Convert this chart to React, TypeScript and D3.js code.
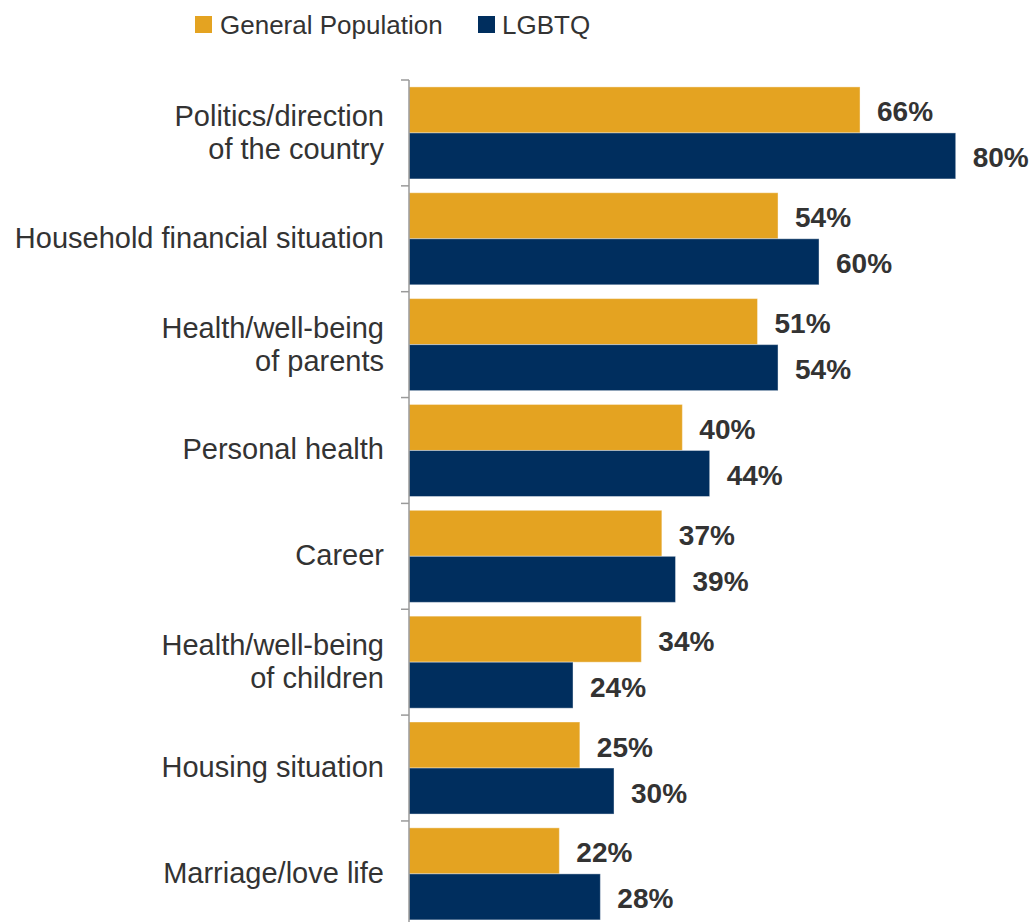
import React from "react";
import * as d3 from "d3";

const categories: string[][] = [
  ["Politics/direction", "of the country"],
  ["Household financial situation"],
  ["Health/well-being", "of parents"],
  ["Personal health"],
  ["Career"],
  ["Health/well-being", "of children"],
  ["Housing situation"],
  ["Marriage/love life"],
];
const generalPopulation = [66, 54, 51, 40, 37, 34, 25, 22];
const lgbtq = [80, 60, 54, 44, 39, 24, 30, 28];
const seriesNames = ["General Population", "LGBTQ"];
const seriesColors = ["#E4A321", "#002E5E"];

const W = 1032;
const H = 922;
const FONT = "'Liberation Sans', Arial, sans-serif";

export default function App() {
  const keys = categories.map((c) => c.join(" "));
  const y = d3.scaleBand<string>().domain(keys).range([80, 80 + 8 * 105.85]).padding(0);
  const sub = d3
    .scaleBand<string>()
    .domain(seriesNames)
    .range([0, y.bandwidth()])
    .paddingInner(0)
    .paddingOuter(0.15);
  const x = d3.scaleLinear().domain([0, 80]).range([409, 955.7]);
  const series = [generalPopulation, lgbtq];
  const axisTop = y.range()[0];
  const axisBottom = y.range()[1];
  const boundaries = keys.map((k) => y(k) as number).concat([axisBottom]);

  return (
    <div style={{ position: "absolute", left: 0, top: 0 }}>
      <svg width={W} height={H} style={{ display: "block" }} fontFamily={FONT}>
        <rect width={W} height={H} fill="#fff" />
        {/* legend */}
        <g>
          <rect x={195} y={16} width={17} height={17} fill={seriesColors[0]} />
          <text x={220} y={24.5} dominantBaseline="central" fontSize={26} fill="#333">
            {seriesNames[0]}
          </text>
          <rect x={478} y={16} width={17} height={17} fill={seriesColors[1]} />
          <text x={502} y={24.5} dominantBaseline="central" fontSize={26} fill="#333">
            {seriesNames[1]}
          </text>
        </g>
        {/* bars */}
        {keys.map((k, i) => (
          <g key={k}>
            {series.map((s, j) => {
              const by = (y(k) as number) + (sub(seriesNames[j]) as number);
              const bh = sub.bandwidth();
              return (
                <g key={j}>
                  <rect
                    x={x(0)}
                    y={by}
                    width={x(s[i]) - x(0)}
                    height={bh}
                    fill={seriesColors[j]}
                    stroke="rgba(255,255,255,0.4)"
                    strokeWidth={1}
                  />
                  <text
                    x={x(s[i]) + 17}
                    y={by + bh / 2 + 2}
                    dominantBaseline="central"
                    fontSize={28}
                    fontWeight="bold"
                    fill="#333"
                  >
                    {s[i] + "%"}
                  </text>
                </g>
              );
            })}
          </g>
        ))}
        {/* axis */}
        <line x1={409} x2={409} y1={axisTop} y2={axisBottom} stroke="#9a9a9a" strokeWidth={1.5} />
        {boundaries.map((b, i) => (
          <line key={i} x1={401} x2={409} y1={b} y2={b} stroke="#9a9a9a" strokeWidth={1.5} />
        ))}
        {/* category labels */}
        {categories.map((lines, i) => {
          const c = (y(keys[i]) as number) + y.bandwidth() / 2;
          return (
            <text key={i} textAnchor="end" fontSize={29} fill="#333">
              {lines.length === 1 ? (
                <tspan x={384} y={c + 9}>
                  {lines[0]}
                </tspan>
              ) : (
                lines.map((l, li) => (
                  <tspan key={li} x={384} y={c - 7 + li * 33}>
                    {l}
                  </tspan>
                ))
              )}
            </text>
          );
        })}
      </svg>
    </div>
  );
}
